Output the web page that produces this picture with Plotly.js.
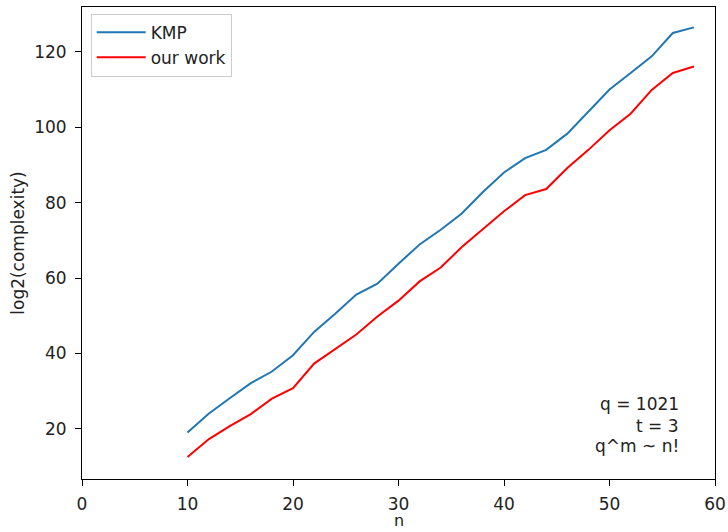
<!DOCTYPE html>
<html>
<head>
<meta charset="utf-8">
<script src="https://cdn.plot.ly/plotly-3.0.1.min.js"></script>
<style>html,body{margin:0;padding:0;background:#fff;}#chart{width:728px;height:532px;}</style>
</head>
<body>
<div id="chart"></div>
<script>
const n = [10,12,14,16,18,20,22,24,26,28,30,32,34,36,38,40,42,44,46,48,50,52,54,56,58];
const kmp = [19.0,24.0,28.1,32.1,35.2,39.5,45.7,50.5,55.6,58.5,63.8,68.9,72.8,77.1,82.8,88.0,91.8,94.0,98.3,104.2,110.0,114.4,118.8,125.0,126.5];
const ourWork = [12.5,17.2,20.7,23.9,28.0,30.8,37.3,41.2,45.0,49.8,54.0,59.1,62.8,68.2,73.0,77.7,82.0,83.6,89.2,94.0,99.2,103.6,109.9,114.4,116.1];
const seriesNames = ["KMP", "our work"];
const xTicks = [0,10,20,30,40,50,60];
const yTicks = [20,40,60,80,100,120];
const noteLines = ["q = 1021", "t = 3", "q^m ~ n!"];
const xTitle = "n";
const yTitle = "log2(complexity)";

const font = {family: "DejaVu Sans", size: 17, color: "#222"};
const traces = [
  {x: n, y: kmp, name: seriesNames[0], type: "scatter", mode: "lines",
   line: {color: "#1f77b4", width: 2}, legendgroup: "a"},
  {x: n, y: ourWork, name: seriesNames[1], type: "scatter", mode: "lines",
   line: {color: "#ff0000", width: 2}, legendgroup: "b"}
];
const noteY = [0.158, 0.113, 0.0695];
const annotations = noteLines.map((t, i) => ({
  text: t, xref: "paper", yref: "paper", x: 0.947, y: noteY[i],
  xanchor: "right", yanchor: "middle", showarrow: false, font: font
}));
annotations.push({
  text: xTitle, xref: "paper", yref: "paper", x: 0.5, y: -0.0879,
  xanchor: "center", yanchor: "middle", showarrow: false,
  font: {family: "DejaVu Sans", size: 16, color: "#222"}, borderpad: 0
});
const layout = {
  width: 728, height: 532,
  margin: {l: 82, r: 12.7, t: 7.3, b: 52.5},
  paper_bgcolor: "#fff", plot_bgcolor: "#fff",
  font: font,
  showlegend: true,
  legend: {x: 0.0137, y: 0.986, xanchor: "left", yanchor: "top",
           bordercolor: "#cccccc", borderwidth: 1, bgcolor: "rgba(255,255,255,0.8)",
           font: font, tracegroupgap: 4, traceorder: "normal", itemwidth: 49},
  xaxis: {range: [0, 60], tickvals: xTicks, ticktext: xTicks.map(String),
          showgrid: false, zeroline: false, showline: true, linecolor: "#000", linewidth: 1,
          mirror: true, ticks: "outside", ticklen: 6, tickcolor: "#000", tickwidth: 1,
          ticklabelstandoff: 4, tickfont: font},
  yaxis: {range: [6.68, 131.9], tickvals: yTicks, ticktext: yTicks.map(String),
          showgrid: false, zeroline: false, showline: true, linecolor: "#000", linewidth: 1,
          mirror: true, ticks: "outside", ticklen: 6, tickcolor: "#000", tickwidth: 1,
          ticklabelstandoff: 5,
          tickfont: font, title: {text: yTitle, font: font, standoff: 5}},
  annotations: annotations
};
Plotly.newPlot("chart", traces, layout, {staticPlot: true, displayModeBar: false});
</script>
</body>
</html>
